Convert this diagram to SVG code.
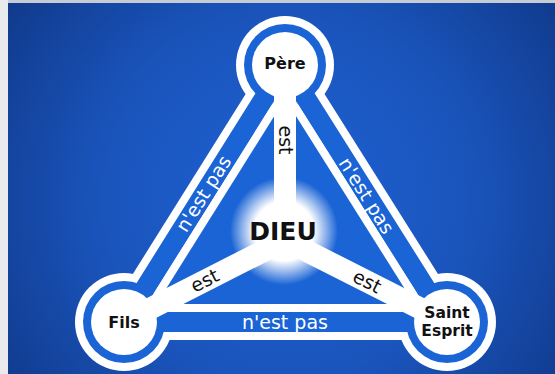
<svg xmlns="http://www.w3.org/2000/svg" width="555" height="374" viewBox="0 0 555 374">
  <defs>
    <radialGradient id="bg" cx="285" cy="200" r="340" gradientUnits="userSpaceOnUse">
      <stop offset="0" stop-color="#1e62d4"/>
      <stop offset="0.55" stop-color="#1a54bb"/>
      <stop offset="1" stop-color="#103a8c"/>
    </radialGradient>
    <radialGradient id="glow" cx="284" cy="231" r="54" gradientUnits="userSpaceOnUse">
      <stop offset="0" stop-color="#ffffff" stop-opacity="1"/>
      <stop offset="0.55" stop-color="#ffffff" stop-opacity="1"/>
      <stop offset="1" stop-color="#ffffff" stop-opacity="0"/>
    </radialGradient>
    <style>
      .w { fill: #ffffff; }
      .b { fill: #1b64d6; }
      .node { font-family: "DejaVu Sans", Verdana, sans-serif; font-weight: bold; font-size: 16px; fill: #111111; text-anchor: middle; }
      .node2 { font-family: "DejaVu Sans", Verdana, sans-serif; font-weight: bold; font-size: 15.5px; fill: #111111; text-anchor: middle; }
      .dieu { font-family: "DejaVu Sans", Verdana, sans-serif; font-weight: bold; font-size: 25px; fill: #111111; text-anchor: middle; }
      .est { font-family: "DejaVu Sans", Verdana, sans-serif; font-size: 19px; fill: #111111; text-anchor: middle; }
      .nep { font-family: "DejaVu Sans", Verdana, sans-serif; font-size: 19px; fill: #ffffff; text-anchor: middle; }
    </style>
  </defs>

  <!-- background and frame -->
  <rect x="0" y="0" width="555" height="374" fill="url(#bg)"/>
  <rect x="0" y="0" width="555" height="3" fill="#c6cbd4"/>
  <rect x="0" y="0" width="8" height="374" fill="#e8eaee"/>

  <!-- structural base -->
  <g id="frame">
    <circle class="w" cx="285" cy="65" r="49"/>
    <circle class="w" cx="124" cy="322" r="49"/>
    <circle class="w" cx="447" cy="322" r="49"/>
    <polygon points="285,65 124,322 447,322" fill="#ffffff" stroke="#ffffff" stroke-width="36" stroke-linejoin="round"/>
    <circle class="b" cx="285" cy="65" r="41"/>
    <circle class="b" cx="124" cy="322" r="41"/>
    <circle class="b" cx="447" cy="322" r="41"/>
    <polygon points="285,65 124,322 447,322" fill="none" stroke="#1b64d6" stroke-width="20" stroke-linejoin="round"/>
    <polygon class="w" points="285.03,83.8 142.06,312 428.88,312"/>
    <polygon class="b" points="285.05,98.83 156.52,304 414.38,304"/>
  </g>

  <!-- connectors -->
  <g id="connectors" stroke="#ffffff" stroke-width="22" stroke-linecap="butt">
    <line x1="285" y1="240" x2="285" y2="65"/>
    <line x1="285" y1="240" x2="124" y2="322"/>
    <line x1="285" y1="240" x2="447" y2="322"/>
  </g>

  <!-- nodes -->
  <g id="pere">
    <circle class="w" cx="285" cy="65" r="33"/>
    <text class="node" x="285" y="69">Père</text>
  </g>
  <g id="fils">
    <circle class="w" cx="124" cy="322" r="33"/>
    <text class="node" x="124" y="328">Fils</text>
  </g>
  <g id="saint-esprit">
    <circle class="w" cx="447" cy="322" r="33"/>
    <text class="node2" x="447" y="318">Saint</text>
    <text class="node2" x="447" y="336">Esprit</text>
  </g>
  <g id="dieu">
    <circle cx="284" cy="231" r="54" fill="url(#glow)"/>
    <text class="dieu" x="283" y="240">DIEU</text>
  </g>

  <!-- labels -->
  <g id="labels">
    <text class="est" transform="translate(285,140) rotate(90)" x="0" y="6">est</text>
    <text class="est" transform="translate(205,281) rotate(-27)" x="0" y="6">est</text>
    <text class="est" transform="translate(367,282) rotate(27)" x="0" y="6">est</text>
    <text class="nep" transform="translate(204,194) rotate(-57.9)" x="0" y="6">n'est pas</text>
    <text class="nep" transform="translate(366,196) rotate(57.8)" x="0" y="6">n'est pas</text>
    <text class="nep" x="285" y="329">n'est pas</text>
  </g>
</svg>
